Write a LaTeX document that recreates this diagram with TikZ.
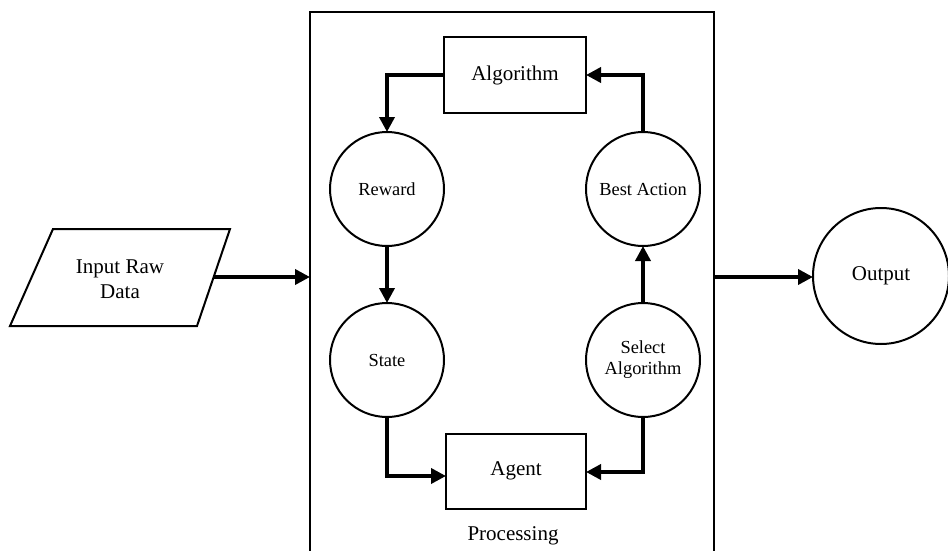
\documentclass[tikz,border=0pt]{standalone}
\usepackage{fontspec}
\setmainfont{Liberation Serif}
\usetikzlibrary{arrows.meta}
\tikzset{
  bigtxt/.style={font=\fontsize{21}{25}\selectfont, align=center},
  smalltxt/.style={font=\fontsize{18.4}{21}\selectfont, align=center},
  boxnode/.style={draw, line width=2pt, minimum width=142pt, minimum height=75pt, inner sep=0pt, outer sep=0pt, bigtxt},
  circnode/.style={draw, circle, line width=2pt, minimum size=114pt, inner sep=0pt, outer sep=0pt, smalltxt},
  flow/.style={line width=3.6pt, -{Triangle[length=15pt,width=15pt]}},
}
\begin{document}
\begin{tikzpicture}[x=1pt, y=-1pt]
\useasboundingbox (0,0) rectangle (948,551);
% processing container
\draw[line width=2.5pt] (310,551) -- (310,12) -- (714,12) -- (714,551);
\node[bigtxt] (proc) at (513,536) {Processing};
\coordinate (procL) at (310,277);
\coordinate (procR) at (714,277);
% input parallelogram
\draw[line width=2pt, line join=miter] (53,229) -- (230,229) -- (197,326) -- (10,326) -- cycle;
\node[bigtxt] (input) at (120,279) {Input Raw\\Data};
\coordinate (inR) at (213,277);
% inner nodes
\node[boxnode] (alg) at (515,75) {Algorithm};
\node[boxnode, minimum width=140pt] (agent) at (516,471) {Agent};
\node[circnode] (rew) at (387,189) {Reward};
\node[circnode] (state) at (387,360) {State};
\node[circnode] (best) at (643,189) {Best Action};
\node[circnode] (sel) at (643,360) {Select\\Algorithm};
% output
\node[draw, circle, line width=2pt, minimum size=136pt, inner sep=0pt, outer sep=0pt, bigtxt] (out) at (881,276) {Output};
% connectors
\draw[flow] (inR) -- (procL);
\draw[flow] (procR) -- (out.west |- procR);
\draw[flow] (alg.west) -| (rew.north);
\draw[flow] (rew.south) -- (state.north);
\draw[flow] (state.south) |- ([yshift=-5pt]agent.west);
\draw[flow] (sel.south) |- ([yshift=-1pt]agent.east);
\draw[flow] (sel.north) -- (best.south);
\draw[flow] (best.north) |- (alg.east);
\end{tikzpicture}
\end{document}
